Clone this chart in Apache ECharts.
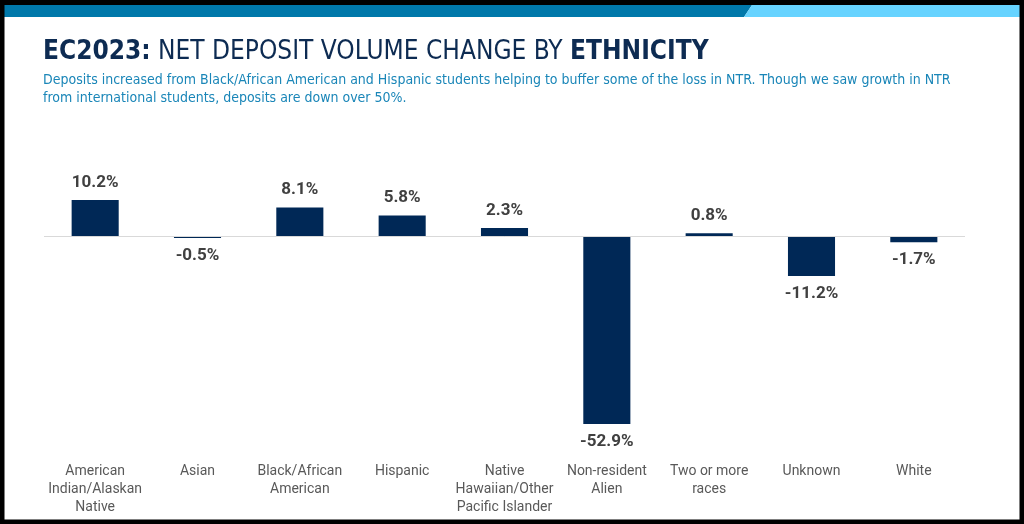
<!DOCTYPE html>
<html>
<head>
<meta charset="utf-8">
<script src="https://cdn.jsdelivr.net/npm/echarts@6/dist/echarts.min.js"></script>
<style>
  html, body { margin: 0; padding: 0; background: #fff; }
  #chart { width: 1024px; height: 524px; }
</style>
</head>
<body>
<div id="chart"></div>
<script>
const CATEGORIES = [
  "American\nIndian/Alaskan\nNative",
  "Asian",
  "Black/African\nAmerican",
  "Hispanic",
  "Native\nHawaiian/Other\nPacific Islander",
  "Non-resident\nAlien",
  "Two or more\nraces",
  "Unknown",
  "White",
];
const CHANGE_PCT = [10.2, -0.5, 8.1, 5.8, 2.3, -52.9, 0.8, -11.2, -1.7];

const TITLE_BOLD = "EC2023:";
const TITLE_REST = " NET DEPOSIT VOLUME CHANGE BY ";
const TITLE_END = "ETHNICITY";
const SUBTITLE =
  "Deposits increased from Black/African American and Hispanic students helping to buffer some of the loss in NTR. Though we saw growth in NTR\nfrom international students, deposits are down over 50%.";

function renderChart() {
  const myChart = echarts.init(document.getElementById("chart"));
  const navy = "#002856";
  const condensed = "DejaVu Sans Condensed";

  const option = {
    animation: false,
    title: {
      text: "{b|" + TITLE_BOLD + "}{r|" + TITLE_REST + "}{b|" + TITLE_END + "}",
      subtext: SUBTITLE,
      left: 38,
      top: 34,
      itemGap: 6,
      textStyle: {
        fontWeight: "normal",
        rich: {
          b: { fontFamily: condensed, fontWeight: "bold", fontSize: 26, color: "#0d2b52" },
          r: { fontFamily: condensed, fontWeight: "normal", fontSize: 26, color: "#0d2b52" },
        },
      },
      subtextStyle: {
        fontFamily: condensed,
        fontSize: 14,
        color: "#1a86b8",
        lineHeight: 18,
      },
    },
    grid: { left: 44, right: 59, top: 200, bottom: 100 },
    xAxis: {
      type: "category",
      data: CATEGORIES,
      axisLine: { show: false, onZero: false },
      axisTick: { show: false },
      axisLabel: {
        margin: 38,
        interval: 0,
        fontFamily: "Roboto",
        fontSize: 14,
        color: "#595959",
        lineHeight: 18,
      },
    },
    yAxis: {
      type: "value",
      min: -52.9,
      max: 10.2,
      show: false,
    },
    series: [
      {
        type: "bar",
        data: CHANGE_PCT,
        barWidth: "46%",
        itemStyle: { color: navy },
        label: {
          show: true,
          position: "outside",
          formatter: (p) => p.value.toFixed(1) + "%",
          fontFamily: "Roboto",
          fontWeight: "bold",
          fontSize: 17,
          color: "#404040",
          distance: 9,
        },
        markLine: {
          silent: true,
          symbol: "none",
          label: { show: false },
          lineStyle: { color: "#d9d9d9", type: "solid", width: 1 },
          data: [{ yAxis: 0 }],
        },
      },
    ],
    graphic: [
      { type: "rect", shape: { x: 0, y: 0, width: 1024, height: 5 }, style: { fill: "#000" } },
      { type: "polygon", shape: { points: [[0, 5], [752, 5], [744, 17], [0, 17]] }, style: { fill: "#0078aa" } },
      { type: "polygon", shape: { points: [[752, 5], [1024, 5], [1024, 17], [744, 17]] }, style: { fill: "#66d3ff" } },
      { type: "rect", shape: { x: 2, y: 2, width: 1020, height: 520 }, style: { fill: "none", stroke: "#000", lineWidth: 5 } },
    ],
  };

  myChart.setOption(option);
}

document.addEventListener("DOMContentLoaded", function () {
  renderChart();
});
</script>
</body>
</html>
